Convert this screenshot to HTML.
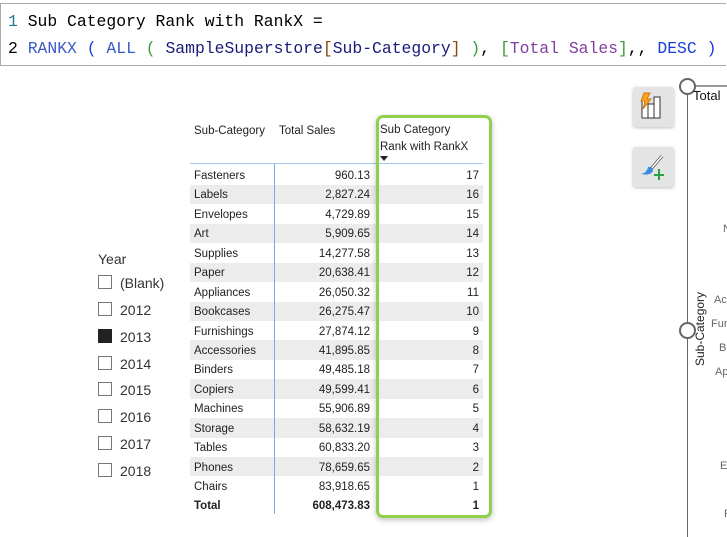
<!DOCTYPE html><html><head><style>
body{margin:0;width:727px;height:537px;background:#fff;position:relative;overflow:hidden;font-family:"Liberation Sans",sans-serif;}
.a{position:absolute;white-space:nowrap}
.code{font-family:"Liberation Mono",monospace;font-size:16.4px;line-height:27px}
.t{font-size:11.5px;color:#222;line-height:19px}
.cb{position:absolute;left:98px;width:12px;height:12px;border:1px solid #777;background:#fff}
.yl{position:absolute;left:120px;font-size:14px;color:#333;line-height:16px}
.lab{position:absolute;font-size:11px;color:#666}
</style></head><body>
<div class="a" style="left:0;top:3px;width:725px;height:61px;border:1px solid #aaa;border-right:none"></div>
<div class="a code" style="left:8px;top:8px"><span style="color:#237893">1</span> <span style="color:#000">Sub Category Rank with RankX =</span></div>
<div class="a code" style="left:8px;top:35px"><span style="color:#000">2</span> <span style="color:#3a5cc5">RANKX</span> <span style="color:#1a3de0">(</span> <span style="color:#3a5cc5">ALL</span> <span style="color:#3a9a3a">(</span> <span style="color:#1a1a7a">SampleSuperstore</span><span style="color:#8b4513">[</span><span style="color:#1a1a7a">Sub-Category</span><span style="color:#8b4513">]</span> <span style="color:#3a9a3a">)</span>, <span style="color:#3a9a3a">[</span><span style="color:#8040a0">Total Sales</span><span style="color:#3a9a3a">]</span>,, <span style="color:#1a3de0">DESC</span> <span style="color:#1a3de0">)</span></div>

<div class="a" style="left:98px;top:251px;font-size:14px;color:#333">Year</div>
<div class="cb" style="top:275px"></div><div class="yl" style="top:275px">(Blank)</div>
<div class="cb" style="top:302px"></div><div class="yl" style="top:302px">2012</div>
<div class="cb" style="top:329px;background:#222;border-color:#222"></div><div class="yl" style="top:329px">2013</div>
<div class="cb" style="top:356px"></div><div class="yl" style="top:356px">2014</div>
<div class="cb" style="top:382px"></div><div class="yl" style="top:382px">2015</div>
<div class="cb" style="top:409px"></div><div class="yl" style="top:409px">2016</div>
<div class="cb" style="top:436px"></div><div class="yl" style="top:436px">2017</div>
<div class="cb" style="top:463px"></div><div class="yl" style="top:463px">2018</div>

<div class="a t" style="left:194px;top:122px">Sub-Category</div>
<div class="a t" style="left:279px;top:122px">Total Sales</div>
<div class="a t" style="left:380px;top:122px;line-height:17px">Sub Category<br>Rank with RankX</div>
<div class="a" style="left:380px;top:156px;width:0;height:0;border-left:4px solid transparent;border-right:4px solid transparent;border-top:5px solid #222"></div>
<div class="a" style="left:190px;top:163px;width:293px;height:1px;background:#9cc8ee"></div>
<div id="rows"></div>
<script>
var d=[["Fasteners","960.13",17],["Labels","2,827.24",16],["Envelopes","4,729.89",15],["Art","5,909.65",14],["Supplies","14,277.58",13],["Paper","20,638.41",12],["Appliances","26,050.32",11],["Bookcases","26,275.47",10],["Furnishings","27,874.12",9],["Accessories","41,895.85",8],["Binders","49,485.18",7],["Copiers","49,599.41",6],["Machines","55,906.89",5],["Storage","58,632.19",4],["Tables","60,833.20",3],["Phones","78,659.65",2],["Chairs","83,918.65",1],["Total","608,473.83",1]];
var h="";
d.forEach(function(r,i){var top=165.5+i*19.44;var tt=top+1.5;var b=i==17?"font-weight:bold;":"";
if(i%2==1&&i<17)h+='<div class="a" style="left:190px;top:'+top+'px;width:293px;height:19.4px;background:#ececec"></div>';
h+='<div class="a t" style="left:194px;top:'+tt+'px;'+b+'">'+r[0]+'</div>';
h+='<div class="a t" style="right:357px;top:'+tt+'px;'+b+'">'+r[1]+'</div>';
h+='<div class="a t" style="right:248px;top:'+tt+'px;'+b+'">'+r[2]+'</div>';});
document.getElementById("rows").innerHTML=h;
</script>
<div class="a" style="left:274px;top:164px;width:1px;height:350px;background:#6ab0f0"></div>
<div class="a" style="left:376px;top:115px;width:110px;height:397px;border:3px solid #8fd14f;border-radius:7px;box-shadow:0 2px 6px rgba(0,0,0,0.25)"></div>

<div class="a" style="left:633px;top:87px;width:41px;height:40px;background:#e4e4e4;border-radius:3px;box-shadow:0 1px 3px rgba(0,0,0,0.25)">
<svg width="41" height="40"><rect x="9" y="14" width="6" height="17" fill="#fff" stroke="#333"/><rect x="15" y="17" width="6" height="14" fill="#fff" stroke="#333"/><rect x="21" y="10" width="6" height="21" fill="#fff" stroke="#333"/><path d="M11 6 L17 6 L14 12 L18 12 L10 22 L12 14 L8 14 Z" fill="#f5a623" stroke="#d9730d"/></svg></div>
<div class="a" style="left:633px;top:147px;width:41px;height:40px;background:#e4e4e4;border-radius:3px;box-shadow:0 1px 3px rgba(0,0,0,0.25)">
<svg width="41" height="40"><line x1="18" y1="22" x2="29" y2="9" stroke="#555" stroke-width="3"/><line x1="18" y1="22" x2="29" y2="9" stroke="#fff" stroke-width="1.5"/><path d="M8 27 Q14 26 15 20 Q20 19 20 24 Q17 29 8 27Z" fill="#3a8ee0"/><path d="M26 22 V33 M21 28 H31" stroke="#2aa040" stroke-width="2"/></svg></div>

<div class="a" style="left:687px;top:86px;width:1px;height:451px;background:#666"></div>
<div class="a" style="left:687px;top:85px;width:40px;height:2px;background:#999"></div>
<div class="a" style="left:679px;top:78px;width:13px;height:13px;border:2px solid #666;border-radius:50%;background:#fff"></div>
<div class="a" style="left:679px;top:322px;width:13px;height:13px;border:2px solid #666;border-radius:50%;background:#fff"></div>
<div class="a" style="left:693px;top:88px;font-size:13px;color:#111">Total</div>
<div class="a" style="left:693px;top:366px;font-size:12px;color:#222;transform:rotate(-90deg);transform-origin:0 0">Sub-Category</div>
<div class="lab" style="left:723px;top:223px">N</div>
<div class="lab" style="left:714px;top:294px">Ac</div>
<div class="lab" style="left:711px;top:318px">Fur</div>
<div class="lab" style="left:719px;top:342px">Bo</div>
<div class="lab" style="left:715px;top:366px">Ap</div>
<div class="lab" style="left:720px;top:460px">E</div>
<div class="lab" style="left:724px;top:508px">F</div>
</body></html>
